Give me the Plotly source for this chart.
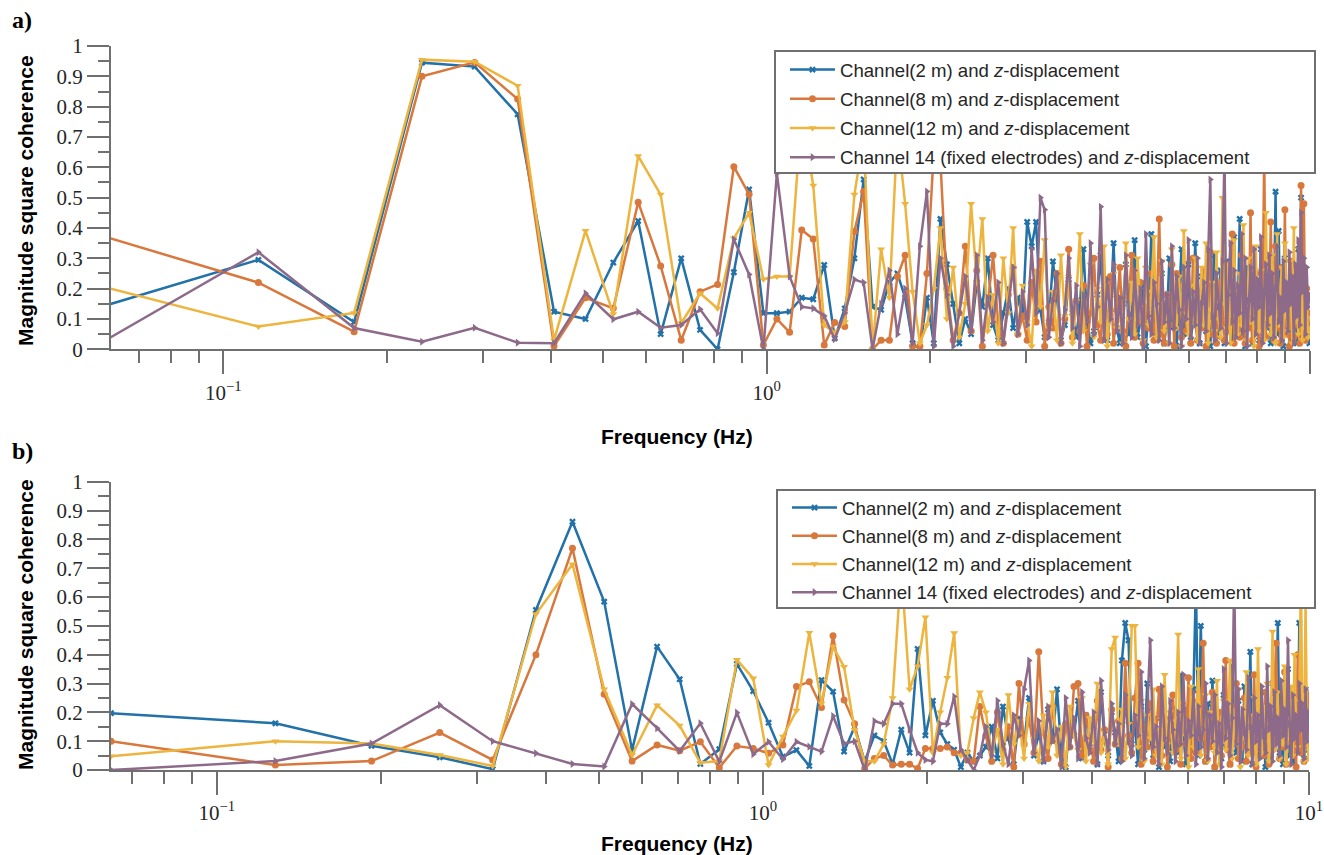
import numpy as np
import plotly.graph_objects as go

# Frequency resolution of the two coherence estimates (Hz per bin)
DF_A = 0.058
DF_B = 0.064

# ---- Panel a: magnitude-squared coherence per channel ----
a_ch2 = [
    0.134, 0.295, 0.09, 0.945, 0.932, 0.775, 0.124, 0.10, 0.286, 0.423,
    0.05, 0.30, 0.064, 0.0, 0.254, 0.527, 0.119, 0.119, 0.124, 0.17,
    0.165, 0.278, 0.036, 0.135, 0.30, 0.56, 0.14, 0.13, 0.22, 0.25,
    0.17, 0.02, 0.00, 0.17, 0.02, 0.43,
    0.28, 0.15, 0.02, 0.10, 0.05, 0.22, 0.14, 0.30, 0.08, 0.03,
    0.12, 0.20, 0.07, 0.17, 0.10, 0.42, 0.34, 0.42, 0.13, 0.04,
    0.09, 0.29, 0.17, 0.03, 0.08, 0.23, 0.12, 0.04, 0.14, 0.33,
    0.10, 0.02, 0.06, 0.18, 0.31, 0.09, 0.03, 0.12, 0.35, 0.07,
    0.02, 0.15, 0.28, 0.05, 0.11, 0.36, 0.04, 0.09, 0.22, 0.01,
    0.13, 0.38, 0.06, 0.03, 0.17, 0.25, 0.02, 0.10, 0.30, 0.07,
    0.14, 0.01, 0.20, 0.33, 0.05, 0.12, 0.28, 0.03, 0.09, 0.35,
    0.15, 0.02, 0.24, 0.11, 0.06, 0.18, 0.01, 0.14, 0.31, 0.08,
    0.04, 0.26, 0.12, 0.02, 0.29, 0.09, 0.17, 0.03, 0.37, 0.07,
    0.13, 0.43, 0.05, 0.11, 0.01, 0.27, 0.08, 0.19, 0.02, 0.24,
    0.06, 0.15, 0.03, 0.33, 0.10, 0.04, 0.21, 0.07, 0.16, 0.02,
    0.28, 0.12, 0.52, 0.05, 0.39, 0.09, 0.18, 0.01, 0.30, 0.11,
    0.06, 0.14, 0.03, 0.26, 0.08, 0.19, 0.02, 0.33, 0.12, 0.50,
    0.05, 0.24, 0.07, 0.16, 0.03, 0.02,
]
a_ch8 = [
    0.381, 0.22, 0.058, 0.90, 0.946, 0.825, 0.011, 0.17, 0.135, 0.485,
    0.275, 0.03, 0.19, 0.214, 0.602, 0.511, 0.014, 0.10, 0.056, 0.393,
    0.364, 0.014, 0.088, 0.075, 0.388, 0.52, 0.0, 0.03, 0.03, 0.24,
    0.31, 0.01, 0.01, 0.25, 0.65, 0.62,
    0.20, 0.03, 0.12, 0.34, 0.06, 0.26, 0.01, 0.15, 0.31, 0.08,
    0.02, 0.18, 0.27, 0.05, 0.11, 0.03, 0.22, 0.09, 0.29, 0.01,
    0.14, 0.07, 0.25, 0.02, 0.10, 0.33, 0.04, 0.16, 0.06, 0.21,
    0.01, 0.12, 0.30, 0.08, 0.03, 0.19, 0.05, 0.24, 0.02, 0.13,
    0.27, 0.06, 0.01, 0.17, 0.31, 0.04, 0.09, 0.22, 0.02, 0.14,
    0.07, 0.25, 0.03, 0.11, 0.43, 0.05, 0.02, 0.18, 0.08, 0.28,
    0.01, 0.25, 0.12, 0.04, 0.21, 0.06, 0.15, 0.02, 0.30, 0.09,
    0.03, 0.19, 0.07, 0.26, 0.01, 0.13, 0.32, 0.05, 0.10, 0.02,
    0.22, 0.08, 0.15, 0.03, 0.28, 0.06, 0.12, 0.38, 0.02, 0.17,
    0.09, 0.04, 0.31, 0.11, 0.02, 0.20, 0.07, 0.45, 0.03, 0.14,
    0.25, 0.06, 0.01, 0.18, 0.10, 0.65, 0.04, 0.22, 0.08, 0.42,
    0.12, 0.03, 0.34, 0.07, 0.15, 0.02, 0.27, 0.09, 0.46, 0.05,
    0.18, 0.01, 0.29, 0.11, 0.04, 0.23, 0.08, 0.20, 0.02, 0.54,
    0.06, 0.48, 0.03, 0.20, 0.12, 0.05,
]
a_ch12 = [
    0.2135, 0.075, 0.12, 0.955, 0.948, 0.869, 0.03, 0.391, 0.116, 0.637,
    0.51, 0.086, 0.185, 0.135, 0.366, 0.45, 0.231, 0.24, 0.24, 0.78,
    0.54, 0.08, 0.055, 0.09, 0.51, 0.70, 0.0, 0.33, 0.17, 0.72,
    0.48, 0.19, 0.02, 0.08, 0.20, 0.40,
    0.10, 0.27, 0.04, 0.15, 0.48, 0.22, 0.43, 0.06, 0.18, 0.02,
    0.30, 0.12, 0.40, 0.05, 0.21, 0.09, 0.01, 0.26, 0.14, 0.36,
    0.07, 0.19, 0.03, 0.31, 0.11, 0.24, 0.02, 0.16, 0.38, 0.06,
    0.13, 0.28, 0.04, 0.20, 0.09, 0.34, 0.01, 0.17, 0.25, 0.07,
    0.12, 0.02, 0.35, 0.10, 0.22, 0.05, 0.30, 0.14, 0.03, 0.27,
    0.08, 0.19, 0.37, 0.04, 0.15, 0.29, 0.06, 0.11, 0.02, 0.33,
    0.18, 0.07, 0.24, 0.01, 0.39, 0.12, 0.05, 0.21, 0.09, 0.30,
    0.03, 0.16, 0.27, 0.08, 0.35, 0.02, 0.13, 0.22, 0.06, 0.32,
    0.10, 0.04, 0.50, 0.15, 0.07, 0.28, 0.02, 0.19, 0.36, 0.11,
    0.05, 0.25, 0.08, 0.41, 0.14, 0.03, 0.30, 0.09, 0.20, 0.01,
    0.34, 0.12, 0.06, 0.26, 0.17, 0.03, 0.45, 0.10, 0.22, 0.05,
    0.31, 0.13, 0.02, 0.38, 0.08, 0.19, 0.27, 0.04, 0.35, 0.11,
    0.06, 0.29, 0.15, 0.02, 0.40, 0.09, 0.23, 0.05, 0.33, 0.12,
    0.03, 0.26, 0.10, 0.18, 0.04, 0.07,
]
a_ch14 = [
    0.0095, 0.32, 0.07, 0.025, 0.071, 0.022, 0.02, 0.185, 0.099, 0.124,
    0.071, 0.08, 0.132, 0.053, 0.363, 0.247, 0.0, 0.58, 0.24, 0.14,
    0.135, 0.11, 0.033, 0.12, 0.23, 0.22, 0.0, 0.15, 0.26, 0.05,
    0.20, 0.02, 0.34, 0.52, 0.01, 0.30,
    0.18, 0.01, 0.12, 0.24, 0.06, 0.31, 0.03, 0.17, 0.09, 0.22,
    0.02, 0.14, 0.27, 0.05, 0.19, 0.08, 0.33, 0.12, 0.50, 0.46,
    0.04, 0.16, 0.25, 0.02, 0.13, 0.30, 0.07, 0.21, 0.01, 0.18,
    0.09, 0.35, 0.05, 0.14, 0.47, 0.03, 0.23, 0.10, 0.28, 0.06,
    0.17, 0.02, 0.31, 0.12, 0.04, 0.26, 0.08, 0.20, 0.01, 0.38,
    0.11, 0.05, 0.22, 0.15, 0.03, 0.29, 0.09, 0.18, 0.02, 0.34,
    0.07, 0.24, 0.13, 0.01, 0.27, 0.10, 0.36, 0.04, 0.19, 0.08,
    0.30, 0.02, 0.15, 0.22, 0.06, 0.33, 0.56, 0.11, 0.03, 0.25,
    0.14, 0.07, 0.29, 0.65, 0.02, 0.18, 0.35, 0.09, 0.26, 0.04,
    0.21, 0.12, 0.38, 0.06, 0.30, 0.01, 0.16, 0.27, 0.10, 0.33,
    0.05, 0.23, 0.14, 0.37, 0.02, 0.19, 0.28, 0.08, 0.31, 0.12,
    0.25, 0.04, 0.20, 0.34, 0.09, 0.17, 0.03, 0.29, 0.13, 0.22,
    0.06, 0.32, 0.15, 0.24, 0.02, 0.28, 0.11, 0.36, 0.08, 0.45,
    0.19, 0.30, 0.05, 0.27, 0.14, 0.18,
]

# ---- Panel b: magnitude-squared coherence per channel ----
b_ch2 = [
    0.197, 0.162, 0.084, 0.044, 0.003, 0.555, 0.861, 0.584, 0.069, 0.428,
    0.315, 0.021, 0.072, 0.368, 0.274, 0.164, 0.046, 0.069, 0.014, 0.312,
    0.272, 0.064,
    0.15, 0.03, 0.12, 0.10, 0.02, 0.14, 0.06, 0.42, 0.12, 0.24,
    0.13, 0.09, 0.07, 0.01, 0.06, 0.03, 0.05,
    0.08, 0.15, 0.04, 0.22, 0.11, 0.02, 0.18, 0.09, 0.25, 0.05,
    0.13, 0.03, 0.21, 0.10, 0.28, 0.06, 0.01, 0.17, 0.12, 0.24,
    0.04, 0.19, 0.08, 0.15, 0.02, 0.27, 0.10, 0.05, 0.20, 0.13,
    0.03, 0.38, 0.51, 0.45, 0.09, 0.16, 0.02, 0.22, 0.07, 0.30,
    0.11, 0.04, 0.18, 0.01, 0.26, 0.08, 0.14, 0.03, 0.21, 0.10,
    0.06, 0.33, 0.12, 0.02, 0.19, 0.07, 0.28, 0.65, 0.05, 0.50,
    0.15, 0.03, 0.23, 0.09, 0.31, 0.01, 0.17, 0.11, 0.04, 0.26,
    0.08, 0.20, 0.02, 0.36, 0.13, 0.06, 0.24, 0.10, 0.03, 0.29,
    0.14, 0.07, 0.41, 0.02, 0.18, 0.11, 0.05, 0.27, 0.09, 0.16,
    0.01, 0.22, 0.12, 0.04, 0.30, 0.08, 0.19, 0.51, 0.06, 0.14,
    0.02, 0.25, 0.10, 0.35, 0.05, 0.17, 0.03, 0.23, 0.12, 0.07,
    0.51, 0.09, 0.20, 0.04, 0.28, 0.13, 0.07,
]
b_ch8 = [
    0.10, 0.017, 0.031, 0.13, 0.035, 0.40, 0.769, 0.263, 0.031, 0.087,
    0.067, 0.098, 0.008, 0.083, 0.075, 0.058, 0.087, 0.29, 0.306, 0.217,
    0.466, 0.243,
    0.16, 0.005, 0.04, 0.05, 0.017, 0.02, 0.02, 0.005, 0.075, 0.075,
    0.075, 0.08, 0.06, 0.06, 0.035, 0.03, 0.22,
    0.12, 0.03, 0.20, 0.07, 0.15, 0.01, 0.30, 0.09, 0.18, 0.06,
    0.41, 0.13, 0.04, 0.22, 0.10, 0.02, 0.16, 0.08, 0.29, 0.30,
    0.05, 0.19, 0.11, 0.03, 0.24, 0.07, 0.14, 0.01, 0.21, 0.09,
    0.17, 0.04, 0.37, 0.12, 0.06, 0.25, 0.37, 0.02, 0.15, 0.08,
    0.23, 0.03, 0.11, 0.28, 0.05, 0.18, 0.01, 0.13, 0.26, 0.07,
    0.16, 0.02, 0.21, 0.09, 0.32, 0.04, 0.14, 0.06, 0.24, 0.11,
    0.44, 0.03, 0.17, 0.08, 0.27, 0.01, 0.12, 0.20, 0.05, 0.15,
    0.38, 0.07, 0.02, 0.22, 0.10, 0.30, 0.04, 0.16, 0.08, 0.25,
    0.03, 0.19, 0.12, 0.06, 0.33, 0.01, 0.14, 0.23, 0.09, 0.05,
    0.27, 0.11, 0.02, 0.18, 0.07, 0.29, 0.44, 0.13, 0.04, 0.21,
    0.08, 0.34, 0.02, 0.15, 0.10, 0.26, 0.05, 0.19, 0.01, 0.40,
    0.12, 0.06, 0.23, 0.03, 0.17, 0.09, 0.26,
]
b_ch12 = [
    0.048, 0.10, 0.092, 0.052, 0.014, 0.541, 0.714, 0.28, 0.052, 0.225,
    0.154, 0.025, 0.031, 0.382, 0.318, 0.017, 0.116, 0.206, 0.476, 0.231,
    0.428, 0.358,
    0.14, 0.03, 0.03, 0.09, 0.25, 0.70, 0.28, 0.36, 0.53, 0.06,
    0.20, 0.32, 0.475, 0.05, 0.06, 0.18, 0.27,
    0.20, 0.06, 0.14, 0.02, 0.26, 0.09, 0.17, 0.04, 0.23, 0.11,
    0.03, 0.19, 0.08, 0.27, 0.05, 0.15, 0.01, 0.22, 0.12, 0.07,
    0.25, 0.03, 0.18, 0.10, 0.30, 0.06, 0.13, 0.02, 0.42, 0.46,
    0.09, 0.21, 0.04, 0.16, 0.50, 0.50, 0.08, 0.24, 0.03, 0.19,
    0.11, 0.28, 0.05, 0.14, 0.02, 0.33, 0.09, 0.20, 0.06, 0.17,
    0.47, 0.04, 0.23, 0.12, 0.01, 0.29, 0.08, 0.18, 0.35, 0.05,
    0.14, 0.26, 0.03, 0.20, 0.10, 0.06, 0.31, 0.02, 0.16, 0.24,
    0.07, 0.13, 0.38, 0.04, 0.21, 0.09, 0.28, 0.01, 0.15, 0.11,
    0.34, 0.05, 0.19, 0.08, 0.25, 0.02, 0.42, 0.12, 0.06, 0.22,
    0.10, 0.30, 0.03, 0.17, 0.48, 0.07, 0.14, 0.27, 0.04, 0.20,
    0.09, 0.36, 0.02, 0.18, 0.11, 0.29, 0.05, 0.40, 0.13, 0.08,
    0.24, 0.68, 0.15, 0.03, 0.58, 0.10, 0.04,
]
b_ch14 = [
    0.0, 0.031, 0.092, 0.225, 0.10, 0.058, 0.021, 0.012, 0.229, 0.145,
    0.066, 0.162, 0.029, 0.199, 0.055, 0.098, 0.037, 0.098, 0.081, 0.064,
    0.187, 0.092,
    0.10, 0.0, 0.17, 0.16, 0.23, 0.23, 0.14, 0.06, 0.035, 0.03,
    0.16, 0.16, 0.255, 0.07, 0.035, 0.0, 0.05,
    0.15, 0.05, 0.24, 0.09, 0.02, 0.19, 0.12, 0.28, 0.38, 0.06,
    0.17, 0.03, 0.22, 0.10, 0.14, 0.01, 0.25, 0.08, 0.18, 0.04,
    0.27, 0.11, 0.06, 0.20, 0.02, 0.31, 0.13, 0.07, 0.23, 0.09,
    0.16, 0.03, 0.26, 0.10, 0.05, 0.19, 0.12, 0.34, 0.04, 0.21,
    0.45, 0.08, 0.15, 0.02, 0.29, 0.11, 0.06, 0.24, 0.14, 0.03,
    0.20, 0.09, 0.33, 0.05, 0.17, 0.12, 0.27, 0.02, 0.22, 0.08,
    0.14, 0.30, 0.04, 0.19, 0.10, 0.26, 0.06, 0.16, 0.01, 0.35,
    0.11, 0.23, 0.05, 0.18, 0.68, 0.09, 0.28, 0.03, 0.21, 0.13,
    0.07, 0.32, 0.15, 0.02, 0.25, 0.10, 0.19, 0.04, 0.29, 0.12,
    0.06, 0.36, 0.14, 0.22, 0.03, 0.27, 0.09, 0.18, 0.05, 0.31,
    0.12, 0.21, 0.08, 0.45, 0.16, 0.02, 0.26, 0.11, 0.19, 0.06,
    0.30, 0.14, 0.23, 0.04, 0.28, 0.10, 0.20,
]

SERIES_NAMES = [
    "Channel(2 m) and <i>z</i>-displacement",
    "Channel(8 m) and <i>z</i>-displacement",
    "Channel(12 m) and <i>z</i>-displacement",
    "Channel 14 (fixed electrodes) and <i>z</i>-displacement",
]
COLORS = ["#2271a9", "#d9783d", "#edb43e", "#8d6a89"]
SYMBOLS = ["x", "circle", "triangle-down", "triangle-right"]
SIZES = [6, 7, 7, 7]

X_TICKS = [0.1, 1, 10]
X_TICKTEXT = ["10<sup>\u22121</sup>", "10<sup>0</sup>", "10<sup>1</sup>"]
X_MINOR = [0.07, 0.08, 0.09, 0.2, 0.3, 0.4, 0.5, 0.6, 0.7, 0.8, 0.9,
           2, 3, 4, 5, 6, 7, 8, 9]

W, H = 1324, 855
GRAY = "#707070"
TXT = "#262626"


def px_x(p):
    return p / W


def px_y(p):
    return 1 - p / H


fig = go.Figure()

panels = [
    ("a", "x", "y", "legend", DF_A, [a_ch2, a_ch8, a_ch12, a_ch14]),
    ("b", "x2", "y2", "legend2", DF_B, [b_ch2, b_ch8, b_ch12, b_ch14]),
]
for tag, xa, ya, lg, df, series in panels:
    for i, vals in enumerate(series):
        freq = df * np.arange(1, len(vals) + 1)
        fig.add_trace(go.Scatter(
            x=freq, y=vals, mode="lines+markers", name=SERIES_NAMES[i],
            xaxis=xa, yaxis=ya, legend=lg, legendgroup=f"{tag}{i}",
            line=dict(color=COLORS[i], width=2.5),
            marker=dict(symbol=SYMBOLS[i], size=SIZES[i], color=COLORS[i],
                        line=dict(width=0)),
        ))


def x_axis(rng, dom, anchor):
    return dict(
        type="log", range=rng, domain=dom, anchor=anchor, automargin=False,
        showline=True, linecolor=GRAY, linewidth=2, mirror=False,
        showgrid=False, zeroline=False,
        ticks="outside", ticklen=23, tickwidth=2, tickcolor=GRAY,
        tickmode="array", tickvals=X_TICKS, ticktext=X_TICKTEXT,
        tickfont=dict(family="Liberation Serif", size=21, color=TXT),
        minor=dict(tickmode="array", tickvals=X_MINOR, ticks="outside",
                   ticklen=12, tickwidth=2, tickcolor=GRAY, showgrid=False),
    )


def y_axis(dom, anchor):
    return dict(
        range=[0, 1], domain=dom, anchor=anchor, automargin=False,
        showline=True, linecolor=GRAY, linewidth=2,
        showgrid=False, zeroline=False,
        ticks="outside", ticklen=22, tickwidth=2, tickcolor=GRAY,
        tickmode="linear", tick0=0, dtick=0.1,
        tickfont=dict(family="Liberation Serif", size=21, color=TXT),
        minor=dict(dtick=0.05, ticks="outside", ticklen=11, tickwidth=2,
                   tickcolor=GRAY, showgrid=False),
    )


def legend_style(gap):
    return dict(
        xanchor="left", yanchor="top", bgcolor="rgba(0,0,0,0)",
        borderwidth=0, itemwidth=45, tracegroupgap=gap,
        font=dict(family="Liberation Sans", size=18.6, color=TXT),
    )


fig.update_layout(
    width=W, height=H, margin=dict(l=0, r=0, t=0, b=0, autoexpand=False),
    paper_bgcolor="white", plot_bgcolor="white", showlegend=True,
    xaxis=x_axis([np.log10(0.0621), 1.0], [px_x(111), px_x(1310)], "y"),
    yaxis=y_axis([px_y(349.3), px_y(46)], "x"),
    xaxis2=x_axis([np.log10(DF_B), 1.0], [px_x(111), px_x(1309)], "y2"),
    yaxis2=y_axis([px_y(770), px_y(481.7)], "x2"),
    legend=dict(x=px_x(785), y=px_y(51), **legend_style(2)),
    legend2=dict(x=px_x(787), y=px_y(489), **legend_style(1)),
)

# Opaque framed boxes behind the two legends
for x0, y0, x1, y1 in ((775, 51, 1315, 173), (777, 490, 1315, 608)):
    fig.add_shape(type="rect", xref="paper", yref="paper",
                  x0=px_x(x0), x1=px_x(x1), y0=px_y(y1), y1=px_y(y0),
                  fillcolor="white", line=dict(color=GRAY, width=2),
                  layer="above")

title_font = dict(family="Liberation Sans", size=21, color="black")
for yc in (201, 625):
    fig.add_annotation(text="<b>Magnitude square coherence</b>", textangle=-90,
                       x=px_x(25), y=px_y(yc), xref="paper", yref="paper",
                       xanchor="center", yanchor="middle", showarrow=False,
                       font=title_font)
for yc in (437, 843):
    fig.add_annotation(text="<b>Frequency (Hz)</b>",
                       x=px_x(677), y=px_y(yc), xref="paper", yref="paper",
                       xanchor="center", yanchor="middle", showarrow=False,
                       font=title_font)
for label, yc in (("a)", 20), ("b)", 451)):
    fig.add_annotation(text="<b>" + label + "</b>",
                       x=px_x(10), y=px_y(yc), xref="paper", yref="paper",
                       xanchor="left", yanchor="middle", showarrow=False,
                       font=dict(family="Liberation Serif", size=24, color="black"))

fig.write_html("out.html")
